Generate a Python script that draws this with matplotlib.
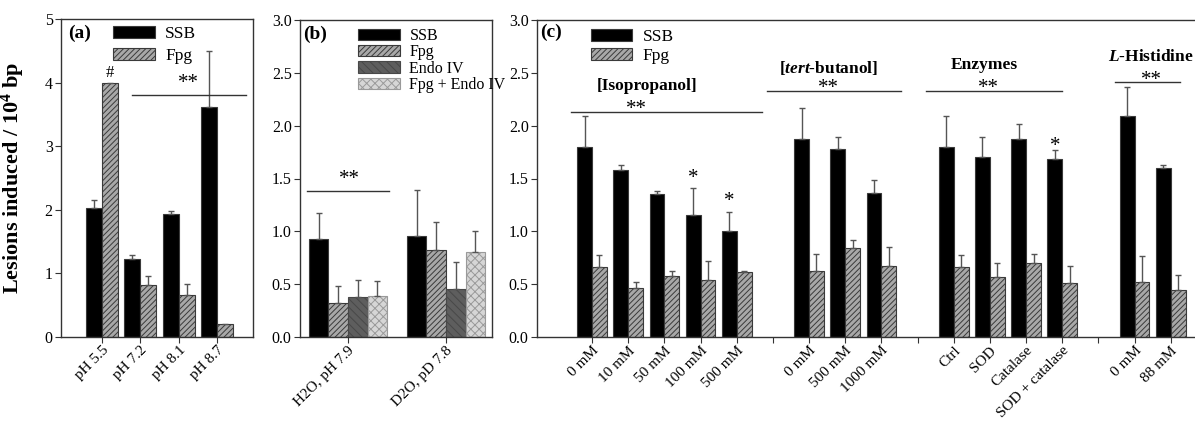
import matplotlib
matplotlib.use('Agg')
import matplotlib.pyplot as plt
import numpy as np

plt.rcParams['font.family'] = ['Liberation Serif', 'DejaVu Serif']
plt.rcParams['mathtext.fontset'] = 'custom'
plt.rcParams['mathtext.rm'] = 'Liberation Serif:bold'
plt.rcParams['mathtext.it'] = 'Liberation Serif:italic:bold'
plt.rcParams['mathtext.bf'] = 'Liberation Serif:bold'
plt.rcParams['hatch.linewidth'] = 0.7

nan = np.nan

# (a) pH series
ph_labels = ['pH 5.5', 'pH 7.2', 'pH 8.1', 'pH 8.7']
ph_ssb = [2.03, 1.23, 1.94, 3.62]
ph_ssb_err = [0.12, 0.06, 0.04, 0.87]
ph_fpg = [4.00, 0.81, 0.66, 0.21]
ph_fpg_err = [nan, 0.15, 0.18, nan]

# (b) H2O vs D2O
solv_labels = ['H2O, pH 7.9', 'D2O, pD 7.8']
solv_ssb = [0.93, 0.96]
solv_ssb_err = [0.24, 0.43]
solv_fpg = [0.32, 0.82]
solv_fpg_err = [0.16, 0.27]
solv_endo = [0.375, 0.45]
solv_endo_err = [0.16, 0.26]
solv_both = [0.39, 0.80]
solv_both_err = [0.14, 0.20]

# (c) scavengers
grp_names = ['[Isopropanol]', '[$tert$-butanol]', 'Enzymes', '$L$-Histidine']
grp_labels = [['0 mM', '10 mM', '50 mM', '100 mM', '500 mM'],
              ['0 mM', '500 mM', '1000 mM'],
              ['Ctrl', 'SOD', 'Catalase', 'SOD + catalase'],
              ['0 mM', '88 mM']]
grp_ssb = [[1.80, 1.585, 1.355, 1.15, 1.00],
           [1.87, 1.78, 1.36],
           [1.80, 1.70, 1.87, 1.68],
           [2.09, 1.60]]
grp_ssb_err = [[0.29, 0.04, 0.03, 0.26, 0.18],
               [0.30, 0.11, 0.13],
               [0.29, 0.19, 0.15, 0.09],
               [0.28, 0.03]]
grp_fpg = [[0.66, 0.46, 0.58, 0.54, 0.615],
           [0.625, 0.84, 0.67],
           [0.66, 0.565, 0.70, 0.515],
           [0.52, 0.445]]
grp_fpg_err = [[0.12, 0.06, 0.04, 0.18, 0.01],
               [0.16, 0.08, 0.18],
               [0.12, 0.14, 0.09, 0.16],
               [0.25, 0.14]]

ssb_style = dict(color='black', edgecolor='#3a3a3a', linewidth=0.8)
fpg_style = dict(color='#a8a8a8', edgecolor='#3a3a3a', hatch='//////', linewidth=0.8)
endo_style = dict(color='#5e5e5e', edgecolor='#484848', hatch='\\\\\\\\', linewidth=0.8)
both_style = dict(color='#d6d6d6', edgecolor='#9a9a9a', hatch='xxxx', linewidth=0.8)
err_kw = dict(ecolor='#555555', elinewidth=1.0, capsize=2.5, capthick=1.0)
spine_col = '#333333'


def upper(err):
    err = np.asarray(err, dtype=float)
    return [np.zeros_like(err), err]


def style_axis(ax):
    for s in ax.spines.values():
        s.set_color(spine_col)
        s.set_linewidth(1.0)
    ax.tick_params(direction='out', length=4, width=0.8, color=spine_col, labelsize=11.5, pad=2)
    ax.tick_params(axis='x', labelsize=11, pad=1)
    ax.tick_params(axis='y', right=False)
    for lab in ax.get_xticklabels():
        lab.set_rotation(45)
        lab.set_ha('right')
        lab.set_rotation_mode('anchor')


fig = plt.figure(figsize=(11.95, 4.24), dpi=100)
W, H = 1195, 424
axa = fig.add_axes([61 / W, 87 / H, 192 / W, 318 / H])
axb = fig.add_axes([300 / W, 87 / H, 192 / W, 317 / H])
axc = fig.add_axes([537 / W, 87 / H, 662 / W, 317 / H])

# ---- (a)
xa = np.arange(len(ph_labels))
wa = 0.42
b1 = axa.bar(xa - wa / 2, ph_ssb, wa, yerr=upper(ph_ssb_err), error_kw=err_kw, **ssb_style)
b2 = axa.bar(xa + wa / 2, ph_fpg, wa, yerr=upper(ph_fpg_err), error_kw=err_kw, **fpg_style)
axa.set_xlim(-1.07, 3.94)
axa.set_ylim(0, 5)
axa.set_yticks(range(6))
axa.set_xticks(xa)
axa.set_xticklabels(ph_labels)
style_axis(axa)
axa.set_ylabel('Lesions induced / 10$^4$ bp', fontsize=16, fontweight='bold')
axa.yaxis.set_label_coords(-0.175, 0.5)
axa.text(0.035, 0.955, '(a)', transform=axa.transAxes, fontsize=14, fontweight='bold', va='center')
axa.legend([b1, b2], ['SSB', 'Fpg'], loc='upper left', bbox_to_anchor=(0.225, 1.005),
           frameon=False, fontsize=12.5, handlelength=2.4, handleheight=0.7,
           labelspacing=0.35, borderpad=0, handletextpad=0.6)
axa.text(wa / 2, ph_fpg[0] + 0.03, '#', ha='center', va='bottom', fontsize=12)
axa.plot([0.78, 3.76], [3.81, 3.81], color='#333333', lw=1)
axa.text(2.25, 3.83, '**', ha='center', va='bottom', fontsize=15)

# ---- (b)
xb = np.arange(len(solv_labels))
wb = 0.2
c1 = axb.bar(xb - 1.5 * wb, solv_ssb, wb, yerr=upper(solv_ssb_err), error_kw=err_kw, **ssb_style)
c2 = axb.bar(xb - 0.5 * wb, solv_fpg, wb, yerr=upper(solv_fpg_err), error_kw=err_kw, **fpg_style)
c3 = axb.bar(xb + 0.5 * wb, solv_endo, wb, yerr=upper(solv_endo_err), error_kw=err_kw, **endo_style)
c4 = axb.bar(xb + 1.5 * wb, solv_both, wb, yerr=upper(solv_both_err), error_kw=err_kw, **both_style)
axb.set_xlim(-0.49, 1.47)
axb.set_ylim(0, 3)
axb.set_yticks(np.arange(0, 3.01, 0.5))
axb.set_yticklabels(['%.1f' % v for v in np.arange(0, 3.01, 0.5)])
axb.set_xticks(xb)
axb.set_xticklabels(solv_labels)
style_axis(axb)
axb.text(0.015, 0.955, '(b)', transform=axb.transAxes, fontsize=14, fontweight='bold', va='center')
axb.legend([c1, c2, c3, c4], ['SSB', 'Fpg', 'Endo IV', 'Fpg + Endo IV'], loc='upper left',
           bbox_to_anchor=(0.262, 1.0), frameon=False, fontsize=11.5, handlelength=2.6,
           handleheight=0.7, labelspacing=0.02, borderpad=0, handletextpad=0.6)
axb.plot([-0.415, 0.42], [1.38, 1.38], color='#333333', lw=1)
axb.text(0.02, 1.40, '**', ha='center', va='bottom', fontsize=15)

# ---- (c)
wc = 0.41
pos = []
ticks = []
labels = []
seps = []
start = 0
for i, labs in enumerate(grp_labels):
    p = np.arange(len(labs)) + start
    pos.append(p)
    ticks += list(p)
    labels += labs
    start = p[-1] + 2
    if i < len(grp_labels) - 1:
        seps.append(p[-1] + 1)
for p, s, se, f, fe in zip(pos, grp_ssb, grp_ssb_err, grp_fpg, grp_fpg_err):
    d1 = axc.bar(p - wc / 2, s, wc, yerr=upper(se), error_kw=err_kw, **ssb_style)
    d2 = axc.bar(p + wc / 2, f, wc, yerr=upper(fe), error_kw=err_kw, **fpg_style)
axc.set_xlim(-1.52, 16.78)
axc.set_ylim(0, 3)
axc.set_yticks(np.arange(0, 3.01, 0.5))
axc.set_yticklabels(['%.1f' % v for v in np.arange(0, 3.01, 0.5)])
axc.set_xticks(ticks + seps)
axc.set_xticklabels(labels + [''] * len(seps))
style_axis(axc)
axc.spines['right'].set_visible(False)
axc.text(0.005, 0.96, '(c)', transform=axc.transAxes, fontsize=14, fontweight='bold', va='center')
axc.legend([d1, d2], ['SSB', 'Fpg'], loc='upper left', bbox_to_anchor=(0.068, 1.0),
           frameon=False, fontsize=12.5, handlelength=2.4, handleheight=0.7,
           labelspacing=0.2, borderpad=0, handletextpad=0.6)

# group headers and significance bars
grp_line = [(-0.57, 4.69, 2.13), (4.83, 8.55, 2.33), (9.24, 12.98, 2.33), (14.45, 16.25, 2.41)]
grp_title = [(1.52, 2.38), (6.55, 2.55), (10.85, 2.57), (15.45, 2.65)]
grp_star = [(1.23, 2.15), (6.55, 2.35), (10.95, 2.35), (15.47, 2.43)]
for name, (x0, x1, yl), (tx, ty), (sx, sy) in zip(grp_names, grp_line, grp_title, grp_star):
    axc.plot([x0, x1], [yl, yl], color='#333333', lw=1)
    axc.text(tx, ty, name, ha='center', va='center', fontsize=12.5, fontweight='bold')
    axc.text(sx, sy, '**', ha='center', va='center', fontsize=15)

# single stars over SSB bars
axc.text(pos[0][3] - wc / 2, 1.50, '*', ha='center', va='center', fontsize=15)
axc.text(pos[0][4] - wc / 2, 1.28, '*', ha='center', va='center', fontsize=15)
axc.text(pos[2][3] - wc / 2, 1.80, '*', ha='center', va='center', fontsize=15)

fig.savefig('out.png', dpi=100)
